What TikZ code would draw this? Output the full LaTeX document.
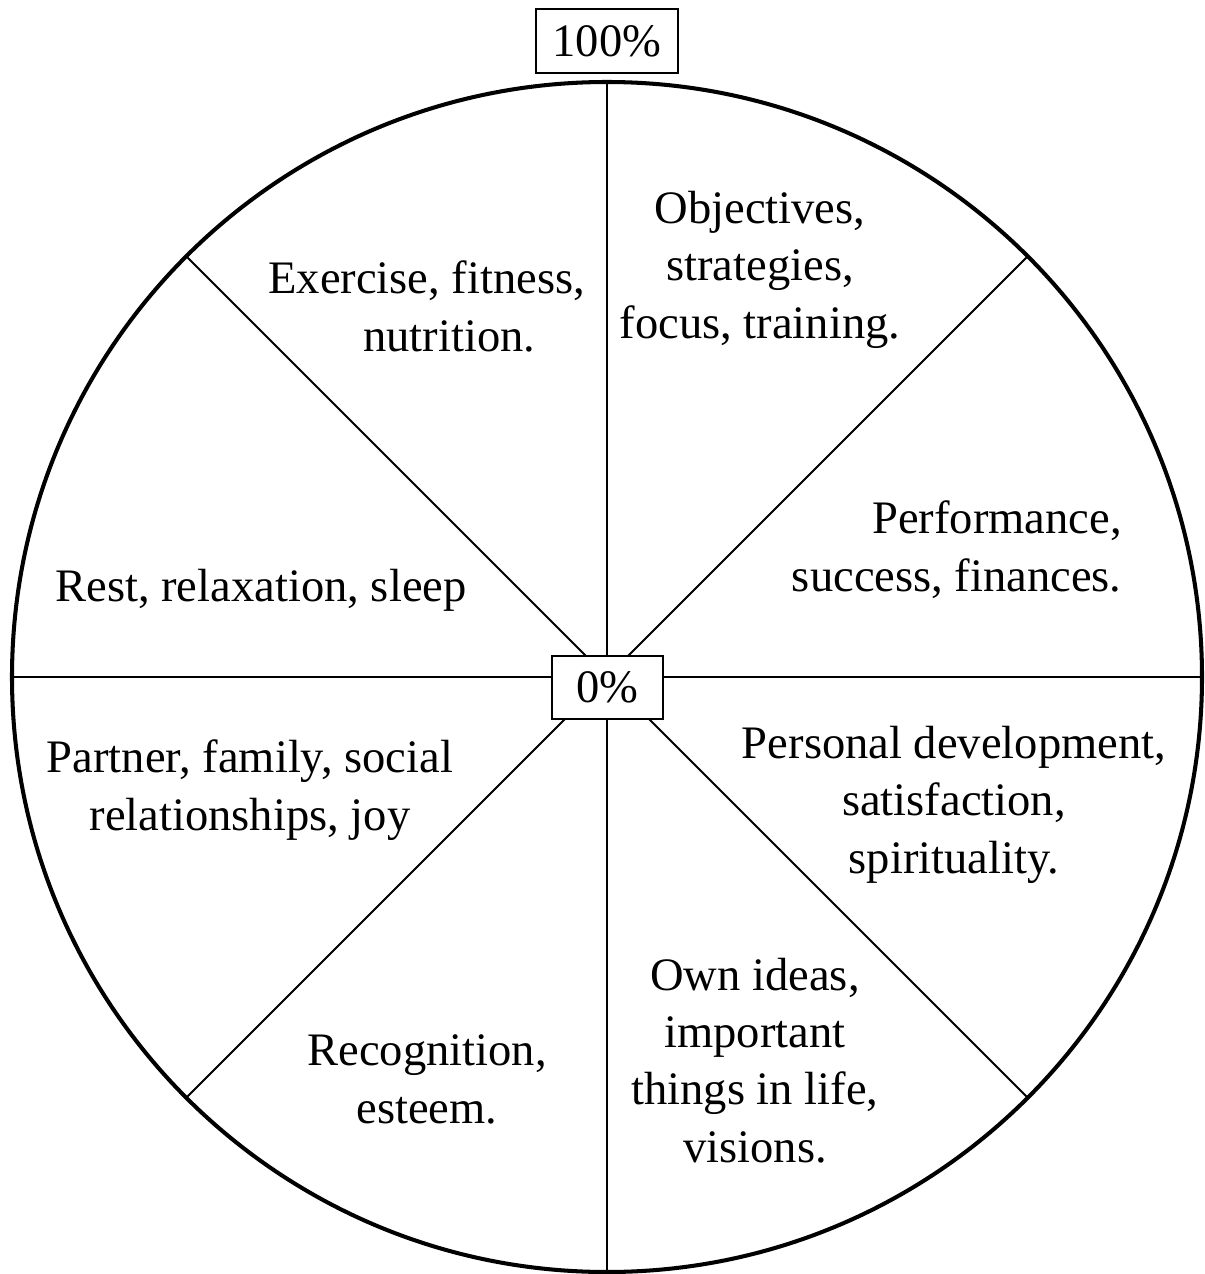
\documentclass[tikz,border=0pt]{standalone}
\usepackage{fontspec}
\setmainfont{Liberation Serif}
\begin{document}
\begin{tikzpicture}[x=0.02cm,y=-0.02cm,
  rim/.style={line width=2.3pt},
  spoke/.style={line width=1.1pt},
  pctbox/.style={draw,line width=1.6pt,fill=white,inner sep=0pt,
    font=\fontsize{26.5}{32.6}\selectfont},
  lbl/.style={inner sep=0pt,align=center,anchor=base,
    font=\fontsize{26.5}{32.6}\selectfont}]
\useasboundingbox (0,0) rectangle (1204,1274);
% hub of the wheel and the eight rim points
\coordinate (c) at (607,677);
\foreach \a in {0,45,...,315}{
  \path (c) ++(\a:595) coordinate (p\a);
}
% spokes
\foreach \a in {0,45,...,315}{
  \draw[spoke] (c) -- (p\a);
}
% rim
\draw[rim] (c) circle (595);
% scale markers
\node[pctbox,minimum width=111*0.02cm,minimum height=63*0.02cm] (zero) at (607.5,687.5) {0\%};
\node[pctbox,minimum width=142*0.02cm,minimum height=64*0.02cm] (full) at (607,41) {100\%};
% segment labels (placed at the baseline of their last line)
\node[lbl] (goals) at (760,338) {Objectives,\\strategies,\\focus, training.};
\node[lbl,align=left,anchor=base west] (fit) at (268,351) {Exercise, fitness,\\\hspace*{1.9cm}nutrition.};
\node[lbl,align=right,anchor=base east] (perf) at (1122,591) {Performance,\\success, finances.};
\node[lbl] (rest) at (261,601) {Rest, relaxation, sleep};
\node[lbl] (social) at (250,830) {Partner, family, social\\relationships, joy};
\node[lbl] (growth) at (954,873) {Personal development,\\satisfaction,\\spirituality.};
\node[lbl] (ideas) at (755,1162) {Own ideas,\\important\\things in life,\\visions.};
\node[lbl] (esteem) at (427,1123) {Recognition,\\esteem.};
\end{tikzpicture}
\end{document}
